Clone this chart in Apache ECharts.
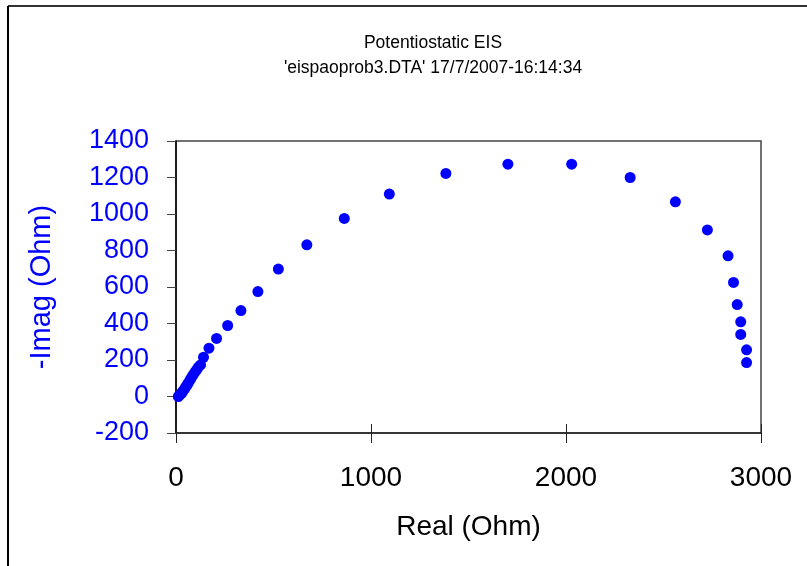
<!DOCTYPE html>
<html>
<head>
<meta charset="utf-8">
<script src="https://cdn.jsdelivr.net/npm/echarts@6/dist/echarts.min.js"></script>
<style>
html,body{margin:0;padding:0;background:#fff;}
#chart{width:807px;height:566px;}
</style>
</head>
<body>
<div id="chart"></div>
<script>
var titleText = "Potentiostatic EIS";
var subtitleText = "'eispaoprob3.DTA' 17/7/2007-16:14:34";
var xName = "Real (Ohm)";
var yName = "-Imag (Ohm)";
var xTicks = [0, 1000, 2000, 3000];
var yTicks = [-200, 0, 200, 400, 600, 800, 1000, 1200, 1400];
var realOhm = [12, 21, 28, 34, 42, 50, 57, 63, 72, 80, 88, 97, 105, 114, 126, 141, 169, 208, 265, 333, 420, 525, 671, 863, 1094, 1384, 1702, 2029, 2329, 2561, 2725, 2831, 2859, 2878, 2896, 2896, 2926, 2926];
var imagOhm = [0, 10, 17, 28, 39, 52, 63, 75, 90, 105, 118, 133, 145, 160, 173, 215, 265, 318, 389, 471, 575, 698, 831, 976, 1109, 1222, 1273, 1273, 1200, 1067, 913, 771, 625, 504, 409, 340, 256, 186];

var pts = realOhm.map(function(v, i){ return [v, imagOhm[i]]; });
var font = "'Liberation Sans', Arial, sans-serif";
function plain(v){ return String(v); }
var chart = echarts.init(document.getElementById('chart'));
chart.setOption({
  animation: false,
  backgroundColor: '#fff',
  title: [
    {text: titleText, left: 428, top: 29, textAlign: 'center',
     textStyle: {fontFamily: font, fontSize: 17.5, fontWeight: 'normal', color: '#000'}},
    {text: subtitleText, left: 428, top: 54, textAlign: 'center',
     textStyle: {fontFamily: font, fontSize: 17.5, fontWeight: 'normal', color: '#000'}}
  ],
  graphic: [
    {type: 'line', shape: {x1: 8, y1: 6, x2: 807, y2: 6}, style: {stroke: '#333', lineWidth: 2}},
    {type: 'line', shape: {x1: 8, y1: 6, x2: 8, y2: 566}, style: {stroke: '#000', lineWidth: 2}}
  ],
  grid: {left: 176, right: 46, top: 141, bottom: 133, show: true, borderColor: '#444', borderWidth: 1.5, backgroundColor: 'transparent'},
  xAxis: [
    {type: 'value', min: xTicks[0], max: xTicks[xTicks.length-1], interval: 1000,
     name: xName, nameLocation: 'middle', nameGap: 80,
     nameTextStyle: {fontFamily: font, fontSize: 28, color: '#000'},
     axisLine: {onZero: false, lineStyle: {color: '#222', width: 1.5}},
     axisTick: {inside: false, length: 10, lineStyle: {color: '#222'}},
     axisLabel: {fontFamily: font, fontSize: 28, color: '#000', margin: 31, formatter: plain},
     splitLine: {show: false}},
    {type: 'value', position: 'bottom', min: xTicks[0], max: xTicks[xTicks.length-1], interval: 1000,
     axisLine: {show: false, onZero: false},
     axisTick: {inside: true, length: 9, lineStyle: {color: '#222'}},
     axisLabel: {show: false}, splitLine: {show: false}}
  ],
  yAxis: {type: 'value', min: yTicks[0], max: yTicks[yTicks.length-1], interval: 200,
     name: yName, nameLocation: 'middle', nameGap: 120, nameRotate: 90,
     nameTextStyle: {fontFamily: font, fontSize: 29, color: '#0000ff'},
     axisLine: {onZero: false, lineStyle: {color: '#000', width: 1.5}},
     axisTick: {inside: false, length: 9, lineStyle: {color: '#444'}},
     axisLabel: {fontFamily: font, fontSize: 27, color: '#0000ff', margin: 27, formatter: plain},
     splitLine: {show: false}},
  series: [{
    type: 'scatter', xAxisIndex: 0, data: pts, symbol: 'circle', symbolSize: 11,
    itemStyle: {color: '#0000ff', opacity: 1}
  }]
});
</script>
</body>
</html>
